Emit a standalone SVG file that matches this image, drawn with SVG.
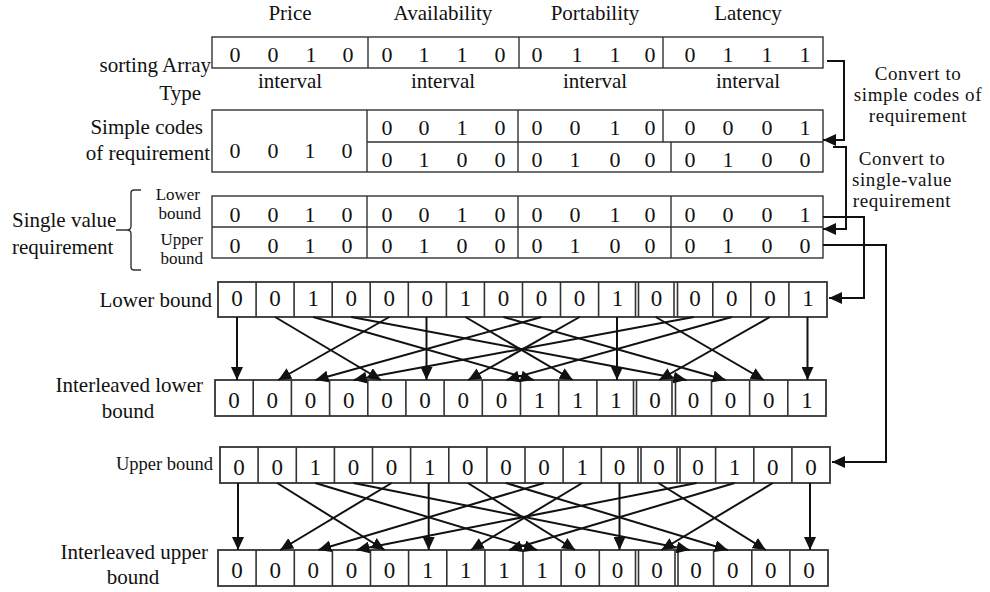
<svg xmlns="http://www.w3.org/2000/svg" width="990" height="592" viewBox="0 0 990 592">
<defs>
<style>
text{font-family:"Liberation Serif","Times New Roman",serif;fill:#111}
.t{font-size:21px}
.c{font-size:19px;text-anchor:middle;letter-spacing:0.6px}
.s{font-size:17px}
.u{font-size:18.5px}
.d{font-size:22px;text-anchor:middle}
.D{font-size:23px;text-anchor:middle}
.m{text-anchor:middle}
.e{text-anchor:end}
.box{fill:#fff;stroke:#333;stroke-width:1.4}
.ln{stroke:#333;stroke-width:1.4;fill:none}
.cell{fill:#fff;stroke:#333;stroke-width:1.8}
.cl{stroke:#333;stroke-width:1.6;fill:none}
.ar{stroke:#111;stroke-width:2;fill:none;marker-end:url(#ah)}
</style>
<marker id="ah" markerUnits="userSpaceOnUse" markerWidth="13" markerHeight="12" refX="13" refY="6" orient="auto">
<path d="M0,0 L13,6 L0,12 z" fill="#111"/>
</marker>
</defs>
<rect width="990" height="592" fill="#fff"/>

<g id="headers">
<text class="t m" x="290" y="20">Price</text>
<text class="t m" x="443" y="20">Availability</text>
<text class="t m" x="595" y="20">Portability</text>
<text class="t m" x="748" y="20">Latency</text>
</g>

<g id="sorting-array">
<text class="t e" x="211" y="72">sorting Array</text>
<text class="t e" x="201" y="100">Type</text>
<rect class="box" x="212" y="37" width="611" height="31"/>
<path class="ln" d="M368,37V68M519,37V68M663,37V68"/>
<text class="d" x="235" y="62">0</text><text class="d" x="273" y="62">0</text><text class="d" x="311" y="62">1</text><text class="d" x="348" y="62">0</text>
<text class="d" x="387" y="62">0</text><text class="d" x="424" y="62">1</text><text class="d" x="462" y="62">1</text><text class="d" x="500" y="62">0</text>
<text class="d" x="537" y="62">0</text><text class="d" x="577" y="62">1</text><text class="d" x="615" y="62">1</text><text class="d" x="650" y="62">0</text>
<text class="d" x="690" y="62">0</text><text class="d" x="728" y="62">1</text><text class="d" x="767" y="62">1</text><text class="d" x="805" y="62">1</text>
<text class="t m" x="290" y="88">interval</text>
<text class="t m" x="443" y="88">interval</text>
<text class="t m" x="595" y="88">interval</text>
<text class="t m" x="748" y="88">interval</text>
</g>

<g id="simple-codes">
<text class="t e" x="203" y="134">Simple codes</text>
<text class="t e" x="210" y="160">of requirement</text>
<rect class="box" x="212" y="110" width="611" height="62"/>
<path class="ln" d="M367,110V172M367,142H823M518,110V172M663,110V142M671,142V172"/>
<text class="d" x="235" y="158">0</text><text class="d" x="273" y="158">0</text><text class="d" x="310" y="158">1</text><text class="d" x="347" y="158">0</text>
<text class="d" x="387" y="135">0</text><text class="d" x="424" y="135">0</text><text class="d" x="462" y="135">1</text><text class="d" x="500" y="135">0</text>
<text class="d" x="537" y="135">0</text><text class="d" x="575" y="135">0</text><text class="d" x="615" y="135">1</text><text class="d" x="650" y="135">0</text>
<text class="d" x="690" y="135">0</text><text class="d" x="728" y="135">0</text><text class="d" x="767" y="135">0</text><text class="d" x="805" y="135">1</text>
<text class="d" x="387" y="167">0</text><text class="d" x="424" y="167">1</text><text class="d" x="462" y="167">0</text><text class="d" x="500" y="167">0</text>
<text class="d" x="537" y="167">0</text><text class="d" x="575" y="167">1</text><text class="d" x="615" y="167">0</text><text class="d" x="650" y="167">0</text>
<text class="d" x="690" y="167">0</text><text class="d" x="728" y="167">1</text><text class="d" x="767" y="167">0</text><text class="d" x="805" y="167">0</text>
</g>

<g id="single-value">
<text class="t" x="12" y="227">Single value</text>
<text class="t" x="12" y="254">requirement</text>
<path class="ln" d="M116,230H127 M141,190H134Q131,190 131,193V226Q131,230 127,230Q131,230 131,234V267Q131,270 134,270H141"/>
<text class="s e" x="200" y="200">Lower</text>
<text class="s e" x="201" y="219">bound</text>
<text class="s e" x="203" y="245">Upper</text>
<text class="s e" x="203" y="264">bound</text>
<rect class="box" x="212" y="196" width="611" height="62"/>
<path class="ln" d="M212,227H823M367,196V258M518,196V258M671,196V258"/>
<text class="d" x="235" y="222">0</text><text class="d" x="273" y="222">0</text><text class="d" x="310" y="222">1</text><text class="d" x="347" y="222">0</text>
<text class="d" x="387" y="222">0</text><text class="d" x="424" y="222">0</text><text class="d" x="462" y="222">1</text><text class="d" x="500" y="222">0</text>
<text class="d" x="537" y="222">0</text><text class="d" x="575" y="222">0</text><text class="d" x="615" y="222">1</text><text class="d" x="650" y="222">0</text>
<text class="d" x="690" y="222">0</text><text class="d" x="728" y="222">0</text><text class="d" x="767" y="222">0</text><text class="d" x="805" y="222">1</text>
<text class="d" x="235" y="253">0</text><text class="d" x="273" y="253">0</text><text class="d" x="310" y="253">1</text><text class="d" x="347" y="253">0</text>
<text class="d" x="387" y="253">0</text><text class="d" x="424" y="253">1</text><text class="d" x="462" y="253">0</text><text class="d" x="500" y="253">0</text>
<text class="d" x="537" y="253">0</text><text class="d" x="575" y="253">1</text><text class="d" x="615" y="253">0</text><text class="d" x="650" y="253">0</text>
<text class="d" x="690" y="253">0</text><text class="d" x="728" y="253">1</text><text class="d" x="767" y="253">0</text><text class="d" x="805" y="253">0</text>
</g>

<g id="lower-bound">
<text class="t e" x="212" y="307">Lower bound</text>
<rect class="cell" x="218" y="282" width="609" height="35"/>
<path class="cl" d="M256.1,282V317M294.1,282V317M332.2,282V317M370.2,282V317M408.3,282V317M446.4,282V317M484.4,282V317M522.5,282V317M560.5,282V317M598.6,282V317M635.5,282V317M638.5,282V317M674,282V317M677.5,282V317M712.8,282V317M750.8,282V317M788.9,282V317"/>
<text class="D" x="237" y="306">0</text><text class="D" x="275.1" y="306">0</text><text class="D" x="313.2" y="306">1</text><text class="D" x="351.2" y="306">0</text>
<text class="D" x="389.3" y="306">0</text><text class="D" x="427.3" y="306">0</text><text class="D" x="465.4" y="306">1</text><text class="D" x="503.5" y="306">0</text>
<text class="D" x="541.5" y="306">0</text><text class="D" x="579.6" y="306">0</text><text class="D" x="617.6" y="306">1</text><text class="D" x="656.5" y="306">0</text>
<text class="D" x="695" y="306">0</text><text class="D" x="731.8" y="306">0</text><text class="D" x="769.9" y="306">0</text><text class="D" x="807.9" y="306">1</text>
</g>

<g id="interleaved-lower-bound">
<text class="t e" x="203" y="392">Interleaved lower</text>
<text class="t m" x="128" y="418">bound</text>
<rect class="cell" x="215" y="380" width="611" height="36"/>
<path class="cl" d="M253.2,380V416M291.4,380V416M329.6,380V416M367.8,380V416M405.9,380V416M444.1,380V416M482.3,380V416M520.5,380V416M558.7,380V416M596.9,380V416M633.5,380V416M636.5,380V416M672,380V416M675.5,380V416M711.5,380V416M749.6,380V416M787.8,380V416"/>
<text class="D" x="234.1" y="408">0</text><text class="D" x="272.3" y="408">0</text><text class="D" x="310.5" y="408">0</text><text class="D" x="348.7" y="408">0</text>
<text class="D" x="386.9" y="408">0</text><text class="D" x="425.1" y="408">0</text><text class="D" x="463.2" y="408">0</text><text class="D" x="501.4" y="408">0</text>
<text class="D" x="539.6" y="408">1</text><text class="D" x="577.8" y="408">1</text><text class="D" x="616" y="408">1</text><text class="D" x="655" y="408">0</text>
<text class="D" x="693.5" y="408">0</text><text class="D" x="730.6" y="408">0</text><text class="D" x="768.8" y="408">0</text><text class="D" x="806.9" y="408">1</text>
</g>

<g id="upper-bound">
<text class="u e" x="213" y="470">Upper bound</text>
<rect class="cell" x="220" y="447" width="610" height="36"/>
<path class="cl" d="M258.1,447V483M296.3,447V483M334.4,447V483M372.5,447V483M410.6,447V483M448.8,447V483M486.9,447V483M525,447V483M563.1,447V483M601.3,447V483M638,447V483M641,447V483M677,447V483M680,447V483M715.6,447V483M753.8,447V483M791.9,447V483"/>
<text class="D" x="239.1" y="475">0</text><text class="D" x="277.2" y="475">0</text><text class="D" x="315.3" y="475">1</text><text class="D" x="353.4" y="475">0</text>
<text class="D" x="391.6" y="475">0</text><text class="D" x="429.7" y="475">1</text><text class="D" x="467.8" y="475">0</text><text class="D" x="505.9" y="475">0</text>
<text class="D" x="544.1" y="475">0</text><text class="D" x="582.2" y="475">1</text><text class="D" x="619.5" y="475">0</text><text class="D" x="659" y="475">0</text>
<text class="D" x="698" y="475">0</text><text class="D" x="734.7" y="475">1</text><text class="D" x="772.8" y="475">0</text><text class="D" x="810.9" y="475">0</text>
</g>

<g id="interleaved-upper-bound">
<text class="t e" x="208" y="559">Interleaved upper</text>
<text class="t m" x="133" y="584">bound</text>
<rect class="cell" x="218" y="550" width="610" height="36"/>
<path class="cl" d="M256.1,550V586M294.3,550V586M332.4,550V586M370.5,550V586M408.6,550V586M446.8,550V586M484.9,550V586M523,550V586M561.1,550V586M599.3,550V586M635.5,550V586M638.5,550V586M675,550V586M678,550V586M713.6,550V586M751.8,550V586M789.9,550V586"/>
<text class="D" x="237.1" y="578">0</text><text class="D" x="275.2" y="578">0</text><text class="D" x="313.3" y="578">0</text><text class="D" x="351.4" y="578">0</text>
<text class="D" x="389.6" y="578">0</text><text class="D" x="427.7" y="578">1</text><text class="D" x="465.8" y="578">1</text><text class="D" x="503.9" y="578">1</text>
<text class="D" x="542.1" y="578">1</text><text class="D" x="580.2" y="578">0</text><text class="D" x="617.5" y="578">0</text><text class="D" x="657" y="578">0</text>
<text class="D" x="696" y="578">0</text><text class="D" x="732.7" y="578">0</text><text class="D" x="770.8" y="578">0</text><text class="D" x="808.9" y="578">0</text>
</g>

<g id="convert-labels">
<text class="c" x="918" y="80">Convert to</text>
<text class="c" x="918" y="101">simple codes of</text>
<text class="c" x="918" y="122">requirement</text>
<text class="c" x="902" y="165">Convert to</text>
<text class="c" x="902" y="186">single-value</text>
<text class="c" x="902" y="207">requirement</text>
</g>

<g id="connectors">
<path class="ar" d="M827,61H844V140H823"/>
<path class="ar" d="M833,147H846V229H823"/>
<path class="ar" d="M823,217H864V298H829"/>
<path class="ar" d="M823,245H886V462H832"/>

<path class="ar" d="M237,317V380"/>
<path class="ar" d="M275.1,317L380.9,380"/>
<path class="ar" d="M313.2,317L533.6,380"/>
<path class="ar" d="M351.2,317L686.4,380"/>
<path class="ar" d="M389.3,317L278.3,380"/>
<path class="ar" d="M426.5,317V380"/>
<path class="ar" d="M465.4,317L572.8,380"/>
<path class="ar" d="M503.5,317L725.6,380"/>
<path class="ar" d="M541.5,317L315.5,380"/>
<path class="ar" d="M579.6,317L468.2,380"/>
<path class="ar" d="M617,317V380"/>
<path class="ar" d="M655.7,317L763.8,380"/>
<path class="ar" d="M693.8,317L353.7,380"/>
<path class="ar" d="M731.8,317L506.4,380"/>
<path class="ar" d="M769.9,317L659.2,380"/>
<path class="ar" d="M807.5,317V380"/>

<path class="ar" d="M238,483V550"/>
<path class="ar" d="M277.2,483L384.6,550"/>
<path class="ar" d="M315.3,483L537.1,550"/>
<path class="ar" d="M353.4,483L689.6,550"/>
<path class="ar" d="M391.6,483L280.2,550"/>
<path class="ar" d="M428.7,483V550"/>
<path class="ar" d="M467.8,483L575.2,550"/>
<path class="ar" d="M505.9,483L727.7,550"/>
<path class="ar" d="M544.1,483L318.3,550"/>
<path class="ar" d="M582.2,483L470.8,550"/>
<path class="ar" d="M619.5,483V550"/>
<path class="ar" d="M658.4,483L765.8,550"/>
<path class="ar" d="M696.6,483L356.4,550"/>
<path class="ar" d="M734.7,483L508.9,550"/>
<path class="ar" d="M772.8,483L661.4,550"/>
<path class="ar" d="M810,483V550"/>
</g>
</svg>
